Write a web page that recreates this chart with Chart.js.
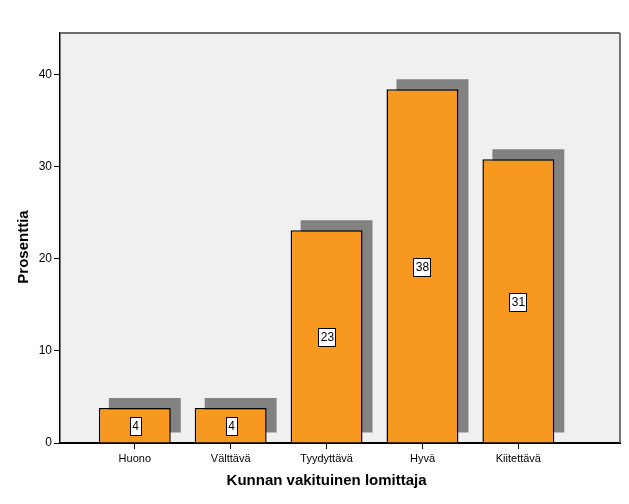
<!DOCTYPE html>
<html>
<head>
<meta charset="utf-8">
<script src="https://cdn.jsdelivr.net/npm/chart.js@4/dist/chart.umd.min.js"></script>
<style>
  html, body { margin: 0; padding: 0; background: #ffffff; }
  #wrap { width: 629px; height: 504px; }
</style>
</head>
<body>
<div id="wrap"><canvas id="c" width="629" height="504"></canvas></div>
<script>
const categories = ['Huono', 'Välttävä', 'Tyydyttävä', 'Hyvä', 'Kiitettävä'];
const percentages = [3.8, 3.8, 23.1, 38.4, 30.8];
const valueLabels = ['4', '4', '23', '38', '31'];
const yTicks = [0, 10, 20, 30, 40];
const xTitle = 'Kunnan vakituinen lomittaja';
const yTitle = 'Prosenttia';

const points = percentages.map((v, i) => ({ x: i, y: v }));
const FONT = '"Liberation Sans", Arial, sans-serif';

const framePlugin = {
  id: 'frame',
  beforeDraw(chart) {
    const { ctx, chartArea: a } = chart;
    ctx.save();
    ctx.fillStyle = '#f0f0f0';
    ctx.fillRect(a.left, a.top, a.right - a.left, a.bottom - a.top);
    ctx.restore();
  },
  afterDraw(chart) {
    const { ctx, chartArea: a, scales } = chart;
    ctx.save();
    ctx.strokeStyle = '#6e6e6e';
    ctx.lineWidth = 2;
    ctx.beginPath();
    ctx.moveTo(a.left, a.top);
    ctx.lineTo(a.right, a.top);
    ctx.stroke();
    ctx.strokeStyle = '#4a4a4a';
    ctx.lineWidth = 1.5;
    ctx.beginPath();
    ctx.moveTo(a.right, a.top);
    ctx.lineTo(a.right, a.bottom);
    ctx.stroke();
    // titles
    ctx.fillStyle = '#000';
    ctx.font = 'bold 15px ' + FONT;
    ctx.textAlign = 'center';
    ctx.textBaseline = 'middle';
    ctx.fillText(xTitle, scales.x.getPixelForValue(2), 481);
    ctx.translate(24, (a.top + a.bottom) / 2 + 9);
    ctx.rotate(-Math.PI / 2);
    ctx.fillText(yTitle, 0, 0);
    ctx.restore();
  }
};

const shadowPlugin = {
  id: 'shadowShift',
  beforeDatasetDraw(chart, args) {
    if (args.index === 0) {
      chart.ctx.save();
      chart.ctx.translate(10, -10);
    }
  },
  afterDatasetDraw(chart, args) {
    if (args.index === 0) chart.ctx.restore();
  }
};

const labelPlugin = {
  id: 'valueBoxes',
  afterDatasetsDraw(chart) {
    const { ctx } = chart;
    const meta = chart.getDatasetMeta(1);
    ctx.save();
    ctx.font = '12px ' + FONT;
    ctx.textAlign = 'center';
    ctx.textBaseline = 'middle';
    meta.data.forEach((el, i) => {
      const t = valueLabels[i];
      const w = ctx.measureText(t).width + 4;
      const h = 18;
      const cx = Math.round(el.x);
      const cy = Math.round((el.y + el.base) / 2) + 1;
      const x0 = Math.round(cx - w / 2) + 0.5;
      const y0 = Math.round(cy - h / 2) + 0.5;
      ctx.fillStyle = '#ffffff';
      ctx.fillRect(x0, y0, Math.round(w), h);
      ctx.strokeStyle = '#000';
      ctx.lineWidth = 1;
      ctx.strokeRect(x0, y0, Math.round(w), h);
      ctx.fillStyle = '#000';
      ctx.fillText(t, cx + 0.5, cy + 1);
    });
    ctx.restore();
  }
};

new Chart(document.getElementById('c'), {
  type: 'bar',
  data: {
    datasets: [
      {
        label: 'shadow',
        data: points,
        backgroundColor: '#828282',
        borderWidth: 0,
        grouped: false,
        order: 2,
        categoryPercentage: 1,
        barPercentage: 0.75
      },
      {
        label: yTitle,
        data: points,
        backgroundColor: '#f8991f',
        borderColor: '#000000',
        borderWidth: 1.5,
        grouped: false,
        order: 1,
        categoryPercentage: 1,
        barPercentage: 0.75
      }
    ]
  },
  options: {
    responsive: false,
    animation: false,
    events: [],
    layout: { padding: { top: 33, right: 9, left: 0, bottom: 0 } },
    plugins: { legend: { display: false }, tooltip: { enabled: false } },
    scales: {
      x: {
        type: 'linear',
        offset: false,
        min: -0.78,
        max: 5.06,
        afterBuildTicks(scale) { scale.ticks = categories.map((c, i) => ({ value: i })); },
        afterFit(scale) { scale.height = 61; },
        ticks: {
          callback: (v) => categories[v],
          autoSkip: false,
          maxRotation: 0,
          color: '#000',
          font: { family: FONT, size: 11 },
          padding: 3
        },
        grid: { offset: false, drawOnChartArea: false, drawTicks: true, tickLength: 6, color: '#000', tickWidth: 1 },
        border: { display: true, color: '#000', width: 2 }
      },
      y: {
        type: 'linear',
        min: 0,
        max: 44.5,
        afterBuildTicks(scale) { scale.ticks = yTicks.map(v => ({ value: v })); },
        afterFit(scale) { scale.width = 60; },
        ticks: {
          color: '#000',
          font: { family: FONT, size: 12 },
          padding: 2
        },
        grid: { drawOnChartArea: false, drawTicks: true, tickLength: 6, color: '#000', tickWidth: 1 },
        border: { display: true, color: '#000', width: 1.5 }
      }
    }
  },
  plugins: [framePlugin, shadowPlugin, labelPlugin]
});
</script>
</body>
</html>
